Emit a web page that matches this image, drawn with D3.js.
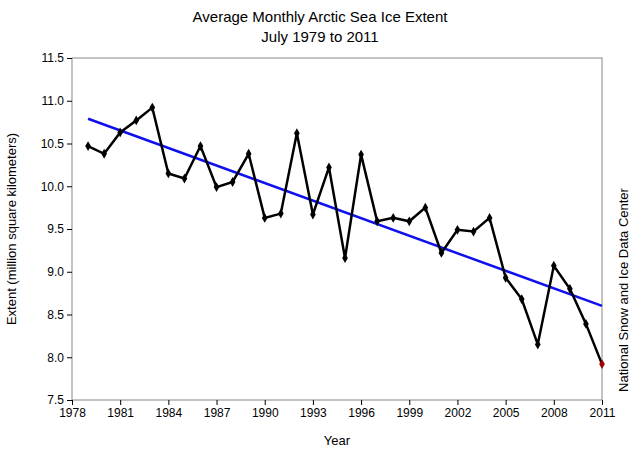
<!DOCTYPE html>
<html><head><meta charset="utf-8">
<script src="https://cdn.jsdelivr.net/npm/d3@7"></script>
<style>body{margin:0;background:#fff}text{font-family:"Liberation Sans",Arial,sans-serif}</style>
</head><body><svg id="c" width="640" height="457"></svg>
<script>
const years=d3.range(1979,2012);
const extent=[10.47,10.38,10.63,10.77,10.92,10.15,10.09,10.47,9.99,10.05,10.38,9.63,9.68,10.62,9.67,10.22,9.16,10.37,9.59,9.63,9.59,9.75,9.22,9.49,9.47,9.63,8.93,8.68,8.15,9.07,8.80,8.39,7.92];
const trend=[[1979,10.79],[2011,8.60]];
const xTicks=d3.range(1978,2012,3);
const yTicks=d3.range(7.5,11.51,0.5);
const svg=d3.select("#c");
const x=d3.scaleLinear().domain([1978,2011]).range([72,602]);
const y=d3.scaleLinear().domain([7.5,11.5]).range([400,58]);
svg.append("rect").attr("x",72).attr("y",58).attr("width",530).attr("height",342).attr("fill","none").attr("stroke","#888");
svg.append("g").attr("transform","translate(0,400)").call(d3.axisBottom(x).tickValues(xTicks).tickFormat(d3.format("d")).tickSize(5))
 .call(g=>{g.select(".domain").remove();g.selectAll("text").attr("font-size",12).attr("fill","#000");});
svg.append("g").attr("transform","translate(72,0)").call(d3.axisLeft(y).tickValues(yTicks).tickFormat(d3.format(".1f")).tickSize(5))
 .call(g=>{g.select(".domain").remove();g.selectAll("text").attr("font-size",12).attr("fill","#000");});
svg.append("path").attr("d",d3.line().x(d=>x(d[0])).y(d=>y(d[1]))(trend)).attr("stroke","#1010ee").attr("stroke-width",2.5).attr("fill","none");
const data=years.map((yr,i)=>[yr,extent[i]]);
svg.append("path").attr("d",d3.line().x(d=>x(d[0])).y(d=>y(d[1]))(data)).attr("stroke","#000").attr("stroke-width",2.5).attr("fill","none");
svg.selectAll(".pt").data(data).enter().append("path").attr("d",d3.symbol(d3.symbolDiamond,28))
 .attr("transform",d=>`translate(${x(d[0])},${y(d[1])})`).attr("fill",(d,i)=>i===data.length-1?"#a00000":"#000");
svg.append("text").attr("x",320).attr("y",22).attr("text-anchor","middle").attr("font-size",15).text("Average Monthly Arctic Sea Ice Extent");
svg.append("text").attr("x",320).attr("y",42).attr("text-anchor","middle").attr("font-size",15).text("July 1979 to 2011");
svg.append("text").attr("x",337).attr("y",445).attr("text-anchor","middle").attr("font-size",13).text("Year");
svg.append("text").attr("transform","translate(16,229) rotate(-90)").attr("text-anchor","middle").attr("font-size",13).text("Extent (million square kilometers)");
svg.append("text").attr("transform","translate(628,290) rotate(-90)").attr("text-anchor","middle").attr("font-size",13).text("National Snow and Ice Data Center");
</script></body></html>
